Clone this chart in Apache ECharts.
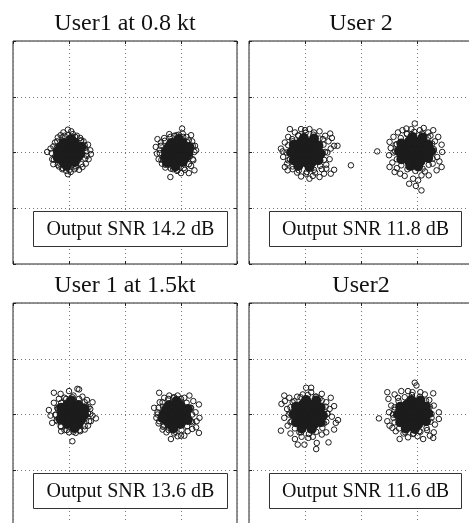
<!DOCTYPE html>
<html><head><meta charset="utf-8">
<script src="https://cdn.jsdelivr.net/npm/echarts@6/dist/echarts.min.js"></script>
<style>html,body{margin:0;padding:0;background:#fff}#c{width:469px;height:523px}</style>
</head><body><div id="c"></div>
<script>
// ---- text ----
const panelTitles = ['User1 at 0.8 kt', 'User 2', 'User 1 at 1.5kt', 'User2'];
const snrTexts = ['Output SNR 14.2 dB', 'Output SNR 11.8 dB', 'Output SNR 13.6 dB', 'Output SNR 11.6 dB'];
const axisMin = -2, axisMax = 2, axisStep = 1;

// ---- panel 1: User1 at 0.8 kt ----
const p1LeftCore = [[-1.00,0.00],[-1.10,0.00],[-0.90,0.00],[-1.20,0.02],[-0.80,-0.02],[-1.05,0.09],[-0.95,0.09],[-1.15,0.10],[-0.85,0.09],[-1.05,-0.09],[-0.95,-0.09],[-1.15,-0.09],[-0.85,-0.09],[-1.00,0.18],[-1.10,0.17],[-0.90,0.17],[-1.00,-0.18],[-1.10,-0.17],[-0.90,-0.17],[-0.78,0.10],[-1.20,-0.10],[-0.96,0.24],[-1.04,-0.24]];
const p1LeftMid = [[-0.69,0.02],[-0.72,0.13],[-0.79,0.21],[-0.89,0.28],[-1.01,0.31],[-1.12,0.27],[-1.21,0.20],[-1.28,0.11],[-1.31,-0.01],[-1.27,-0.13],[-1.20,-0.22],[-1.11,-0.28],[-0.99,-0.31],[-0.88,-0.27],[-0.78,-0.21],[-0.71,-0.11]];
const p1LeftRing = [[-1.39,0.01],[-1.33,0.07],[-1.30,-0.12],[-1.28,-0.21],[-1.25,0.18],[-1.20,0.27],[-1.15,0.31],[-1.10,0.36],[-1.02,0.41],[-0.96,0.38],[-0.93,0.33],[-0.86,0.30],[-0.80,0.26],[-0.74,0.20],[-0.66,0.14],[-0.62,0.04],[-0.61,-0.03],[-0.65,-0.12],[-0.70,-0.20],[-0.76,-0.26],[-0.82,-0.31],[-0.90,-0.30],[-0.97,-0.35],[-1.02,-0.39],[-1.05,-0.33],[-1.12,-0.30],[-1.18,-0.25],[-1.24,-0.06],[-1.22,0.08],[-0.72,0.08],[-0.68,-0.06],[-1.08,0.30],[-0.88,-0.24],[-1.16,-0.20],[-0.78,0.22]];
const p1RightCore = [[0.93,0.00],[0.83,0.00],[1.03,0.00],[0.73,0.02],[1.13,-0.01],[0.88,0.09],[0.98,0.09],[0.78,0.10],[1.08,0.09],[0.88,-0.09],[0.98,-0.09],[0.78,-0.10],[1.08,-0.09],[0.93,0.18],[0.83,0.17],[1.03,0.17],[0.93,-0.18],[0.83,-0.17],[1.03,-0.17],[0.72,-0.08],[1.15,0.10],[0.90,-0.25],[0.96,0.24],[0.75,-0.18]];
const p1RightMid = [[1.24,0.01],[1.21,0.12],[1.14,0.22],[1.04,0.28],[0.92,0.31],[0.81,0.28],[0.71,0.21],[0.64,0.12],[0.62,-0.01],[0.65,-0.13],[0.72,-0.22],[0.82,-0.29],[0.94,-0.31],[1.05,-0.28],[1.14,-0.21],[1.21,-0.12]];
const p1RightRing = [[0.58,0.24],[0.55,0.10],[0.57,-0.02],[0.60,-0.12],[0.66,-0.20],[0.72,-0.27],[0.81,-0.44],[0.86,-0.30],[0.93,-0.33],[1.00,-0.37],[1.07,-0.31],[1.14,-0.37],[1.24,-0.32],[1.18,-0.24],[1.22,-0.14],[1.27,0.04],[1.25,0.12],[1.20,0.20],[1.18,0.31],[1.10,0.28],[1.03,0.34],[1.02,0.43],[0.96,0.32],[0.88,0.30],[0.79,0.33],[0.70,0.26],[0.64,0.18],[0.62,0.05],[1.16,-0.06],[0.68,-0.12],[0.78,-0.22],[1.12,0.18]];

// ---- panel 2: User 2 ----
const p2LeftCore = [[-0.98,0.00],[-1.08,0.00],[-0.88,0.00],[-1.18,0.01],[-0.78,0.00],[-1.03,0.09],[-0.93,0.09],[-1.13,0.10],[-0.83,0.10],[-1.03,-0.09],[-0.93,-0.09],[-1.13,-0.10],[-0.83,-0.10],[-0.98,0.18],[-1.08,0.18],[-0.88,0.18],[-0.98,-0.18],[-1.08,-0.18],[-0.88,-0.18],[-1.20,0.14],[-0.76,0.12],[-1.20,-0.14],[-0.76,-0.14],[-1.02,0.26],[-0.92,-0.26],[-1.12,-0.24],[-0.84,0.25],[-0.72,-0.02],[-1.25,0.00]];
const p2LeftMid = [[-0.64,0.01],[-0.67,0.14],[-0.74,0.25],[-0.85,0.32],[-0.99,0.35],[-1.12,0.31],[-1.23,0.24],[-1.30,0.13],[-1.33,0.00],[-1.30,-0.14],[-1.22,-0.25],[-1.11,-0.32],[-0.97,-0.35],[-0.84,-0.31],[-0.73,-0.24],[-0.66,-0.13]];
const p2LeftRing = [[-1.43,0.07],[-1.39,-0.08],[-1.36,0.18],[-1.31,-0.32],[-1.32,-0.20],[-1.30,0.28],[-1.27,0.42],[-1.18,0.36],[-1.07,0.42],[-1.00,0.40],[-0.92,0.42],[-0.84,0.36],[-0.74,0.38],[-0.64,0.30],[-0.55,0.34],[-0.58,0.20],[-0.48,0.12],[-0.42,0.12],[-0.54,0.07],[-0.60,0.00],[-0.56,-0.12],[-0.62,-0.22],[-0.48,-0.31],[-0.54,-0.38],[-0.62,-0.29],[-0.66,-0.38],[-0.74,-0.44],[-0.82,-0.36],[-0.92,-0.47],[-0.98,-0.38],[-1.07,-0.43],[-1.14,-0.36],[-1.22,-0.30],[-1.27,-0.12],[-1.25,0.04],[-1.22,0.20],[-1.12,0.30],[-0.70,-0.30],[-0.68,0.24],[-0.18,-0.23],[-1.36,-0.26],[-0.86,-0.42],[-0.52,0.26],[-1.40,0.02]];
const p2RightCore = [[0.96,0.02],[0.86,0.02],[1.06,0.02],[0.76,0.03],[1.16,0.02],[0.91,0.11],[1.01,0.11],[0.81,0.12],[1.11,0.11],[0.91,-0.07],[1.01,-0.07],[0.81,-0.08],[1.11,-0.07],[0.96,0.20],[0.86,0.20],[1.06,0.20],[0.96,-0.16],[0.86,-0.16],[1.06,-0.16],[0.72,0.16],[1.20,0.14],[0.72,-0.12],[1.20,-0.10],[0.92,0.28],[1.02,-0.25],[0.88,-0.24],[1.10,0.27],[0.68,0.02],[1.25,0.02]];
const p2RightMid = [[1.30,0.03],[1.27,0.16],[1.20,0.27],[1.09,0.34],[0.95,0.37],[0.82,0.33],[0.71,0.26],[0.64,0.15],[0.61,0.02],[0.64,-0.12],[0.72,-0.23],[0.83,-0.30],[0.97,-0.33],[1.10,-0.29],[1.21,-0.22],[1.28,-0.11]];
const p2RightRing = [[0.29,0.02],[0.50,-0.05],[0.51,0.19],[0.53,0.08],[0.51,-0.26],[0.56,-0.18],[0.60,-0.35],[0.58,0.28],[0.66,0.36],[0.74,0.40],[0.81,0.43],[0.90,0.42],[0.96,0.52],[1.05,0.40],[1.12,0.44],[1.20,0.36],[1.29,0.40],[1.38,0.28],[1.32,0.20],[1.44,0.14],[1.45,0.01],[1.36,-0.08],[1.44,-0.26],[1.35,-0.32],[1.28,-0.20],[1.21,-0.41],[1.14,-0.34],[1.08,-0.41],[1.02,-0.50],[0.93,-0.47],[0.86,-0.56],[1.08,-0.68],[0.78,-0.42],[0.70,-0.38],[0.64,-0.28],[1.30,0.06],[1.24,0.30],[0.62,0.14],[0.98,-0.60],[0.58,0.00],[1.40,-0.16],[0.82,0.34]];

// ---- panel 3: User 1 at 1.5kt ----
const p3LeftCore = [[-0.93,0.00],[-1.03,0.00],[-0.83,0.00],[-1.13,0.01],[-0.73,-0.01],[-0.98,0.09],[-0.88,0.09],[-1.08,0.10],[-0.78,0.09],[-0.98,-0.09],[-0.88,-0.09],[-1.08,-0.10],[-0.78,-0.09],[-0.93,0.18],[-1.03,0.17],[-0.83,0.17],[-0.93,-0.18],[-1.03,-0.17],[-0.83,-0.17],[-1.15,-0.08],[-0.72,0.10],[-0.96,0.25],[-0.90,-0.24],[-1.14,0.12]];
const p3LeftMid = [[-0.62,0.01],[-0.65,0.13],[-0.72,0.22],[-0.82,0.28],[-0.94,0.31],[-1.05,0.28],[-1.14,0.21],[-1.21,0.12],[-1.24,-0.01],[-1.21,-0.12],[-1.14,-0.22],[-1.04,-0.28],[-0.92,-0.31],[-0.81,-0.28],[-0.72,-0.21],[-0.64,-0.12]];
const p3LeftRing = [[-1.36,0.08],[-1.33,-0.02],[-1.30,-0.15],[-1.27,0.21],[-1.27,0.39],[-1.15,0.37],[-1.08,0.30],[-1.00,0.42],[-0.92,0.34],[-0.85,0.46],[-0.82,0.45],[-0.76,0.32],[-0.68,0.26],[-0.58,0.22],[-0.62,0.10],[-0.52,-0.07],[-0.61,-0.12],[-0.66,-0.20],[-0.72,-0.27],[-0.80,-0.30],[-0.88,-0.33],[-0.94,-0.48],[-1.00,-0.32],[-1.08,-0.28],[-1.15,-0.21],[-1.22,-0.10],[-1.20,0.10],[-1.24,0.00],[-1.18,0.28],[-0.66,0.02],[-0.70,0.16],[-1.14,-0.30],[-0.58,-0.02]];
const p3RightCore = [[0.89,0.00],[0.79,0.00],[0.99,0.00],[0.69,0.01],[1.09,-0.01],[0.84,0.09],[0.94,0.09],[0.74,0.10],[1.04,0.09],[0.84,-0.09],[0.94,-0.09],[0.74,-0.10],[1.04,-0.09],[0.89,0.18],[0.79,0.17],[0.99,0.17],[0.89,-0.18],[0.79,-0.17],[0.99,-0.17],[1.12,0.10],[1.12,-0.10],[0.92,0.24],[0.86,-0.25],[0.67,-0.06]];
const p3RightMid = [[1.20,0.00],[1.17,0.12],[1.10,0.21],[1.00,0.28],[0.88,0.31],[0.77,0.28],[0.67,0.22],[0.60,0.12],[0.58,0.00],[0.61,-0.12],[0.68,-0.22],[0.78,-0.28],[0.90,-0.31],[1.01,-0.28],[1.11,-0.21],[1.18,-0.12]];
const p3RightRing = [[0.52,0.12],[0.56,-0.06],[0.58,0.04],[0.60,-0.16],[0.67,-0.27],[0.74,-0.32],[0.82,-0.44],[0.88,-0.34],[0.94,-0.39],[1.00,-0.38],[1.06,-0.38],[1.12,-0.30],[1.20,-0.26],[1.27,-0.23],[1.32,-0.33],[1.33,-0.06],[1.26,0.04],[1.28,-0.12],[1.32,0.18],[1.22,0.24],[1.15,0.34],[1.06,0.30],[0.94,0.34],[0.86,0.30],[0.79,0.34],[0.70,0.30],[0.61,0.39],[0.62,0.22],[0.68,0.14],[0.64,-0.08],[1.18,0.12],[1.20,-0.14],[0.70,-0.20]];

// ---- panel 4: User2 ----
const p4LeftCore = [[-0.94,0.00],[-1.04,0.00],[-0.84,0.00],[-1.14,0.01],[-0.74,0.00],[-0.99,0.09],[-0.89,0.09],[-1.09,0.10],[-0.79,0.10],[-0.99,-0.09],[-0.89,-0.09],[-1.09,-0.10],[-0.79,-0.10],[-0.94,0.18],[-1.04,0.18],[-0.84,0.18],[-0.94,-0.18],[-1.04,-0.18],[-0.84,-0.18],[-1.16,0.14],[-0.72,0.12],[-1.16,-0.14],[-0.72,-0.14],[-0.98,0.26],[-0.88,-0.26],[-1.06,-0.25],[-0.80,0.25],[-0.68,-0.02],[-1.20,0.00]];
const p4LeftMid = [[-0.60,0.01],[-0.63,0.14],[-0.70,0.25],[-0.81,0.32],[-0.95,0.35],[-1.08,0.31],[-1.19,0.24],[-1.26,0.13],[-1.29,0.00],[-1.26,-0.14],[-1.18,-0.25],[-1.07,-0.32],[-0.93,-0.35],[-0.80,-0.31],[-0.69,-0.24],[-0.62,-0.13]];
const p4LeftRing = [[-1.42,0.19],[-1.37,-0.06],[-1.43,-0.29],[-1.31,-0.20],[-1.37,0.34],[-1.28,0.30],[-1.32,0.10],[-1.26,-0.34],[-1.18,-0.44],[-1.13,-0.54],[-1.01,-0.54],[-1.06,-0.40],[-0.94,-0.42],[-0.86,-0.40],[-0.79,-0.51],[-0.80,-0.62],[-0.70,-0.36],[-0.58,-0.50],[-0.62,-0.32],[-0.48,-0.27],[-0.45,-0.15],[-0.41,-0.10],[-0.52,-0.04],[-0.48,0.15],[-0.56,0.10],[-0.54,0.30],[-0.62,0.22],[-0.70,0.37],[-0.80,0.32],[-0.89,0.40],[-0.89,0.48],[-0.98,0.48],[-1.04,0.36],[-1.14,0.32],[-1.22,0.22],[-1.26,0.02],[-1.24,-0.12],[-0.66,-0.16],[-0.60,0.02],[-1.10,-0.32],[-0.74,0.28],[-1.36,0.24]];
const p4RightCore = [[0.92,0.00],[0.82,0.00],[1.02,0.00],[0.72,0.01],[1.12,0.00],[0.87,0.09],[0.97,0.09],[0.77,0.10],[1.07,0.10],[0.87,-0.09],[0.97,-0.09],[0.77,-0.10],[1.07,-0.10],[0.92,0.18],[0.82,0.18],[1.02,0.18],[0.92,-0.18],[0.82,-0.18],[1.02,-0.18],[0.70,0.14],[1.16,0.14],[0.70,-0.14],[1.16,-0.12],[0.90,0.26],[0.96,-0.26],[0.80,-0.25],[1.06,0.25],[0.66,0.00],[1.20,0.02]];
const p4RightMid = [[1.26,0.01],[1.23,0.14],[1.16,0.25],[1.05,0.32],[0.91,0.35],[0.78,0.31],[0.67,0.24],[0.60,0.13],[0.57,0.00],[0.60,-0.14],[0.68,-0.25],[0.79,-0.32],[0.93,-0.35],[1.06,-0.31],[1.17,-0.24],[1.24,-0.13]];
const p4RightRing = [[0.32,-0.07],[0.47,-0.12],[0.51,-0.20],[0.50,0.04],[0.49,0.28],[0.47,0.40],[0.54,0.16],[0.60,0.36],[0.72,0.42],[0.84,0.42],[0.96,0.57],[0.99,0.52],[1.06,0.40],[1.14,0.36],[1.29,0.38],[1.22,0.26],[1.30,0.16],[1.39,0.04],[1.39,-0.08],[1.32,-0.18],[1.30,-0.32],[1.29,-0.42],[1.23,-0.38],[1.18,-0.28],[1.11,-0.44],[1.01,-0.39],[0.94,-0.34],[0.84,-0.41],[0.76,-0.34],[0.69,-0.44],[0.62,-0.30],[0.56,-0.24],[0.58,-0.06],[0.92,0.40],[1.26,-0.06],[0.66,0.30],[1.04,-0.30],[0.60,0.08]];

const coreSets = [p1LeftCore.concat(p1RightCore), p2LeftCore.concat(p2RightCore), p3LeftCore.concat(p3RightCore), p4LeftCore.concat(p4RightCore)];
const ringSets = [
  p1LeftMid.concat(p1RightMid, p1LeftRing, p1RightRing),
  p2LeftMid.concat(p2RightMid, p2LeftRing, p2RightRing),
  p3LeftMid.concat(p3RightMid, p3LeftRing, p3RightRing),
  p4LeftMid.concat(p4RightMid, p4LeftRing, p4RightRing)
];

// ---- layout (pixels) ----
const panelPos = [{l:13,t:41},{l:249,t:41},{l:13,t:303},{l:249,t:303}];
const PW = 224, PH = 223;

const chart = echarts.init(document.getElementById('c'), null, {renderer:'canvas'});
const grid = [], xAxis = [], yAxis = [], series = [], graphic = [];
const tick = {show:true, inside:true, length:3, lineStyle:{color:'#222', width:1}};
const split = {show:true, lineStyle:{color:'#777', width:1, type:[1,3]}};
panelPos.forEach((p, i) => {
  grid.push({left:p.l, top:p.t, width:PW, height:PH, show:true, borderColor:'#222', borderWidth:1,
    backgroundColor:'transparent', containLabel:false, outerBoundsMode:'none'});
  const base = {gridIndex:i, type:'value', min:axisMin, max:axisMax, interval:axisStep, axisLabel:{show:false}, axisLine:{show:false, onZero:false}, axisTick:tick};
  xAxis.push(Object.assign({}, base, {position:'bottom', splitLine:split}));
  xAxis.push(Object.assign({}, base, {position:'top', splitLine:{show:false}}));
  yAxis.push(Object.assign({}, base, {position:'left', splitLine:split}));
  yAxis.push(Object.assign({}, base, {position:'right', splitLine:{show:false}}));
  series.push({type:'scatter', xAxisIndex:2*i, yAxisIndex:2*i, data:coreSets[i], symbol:'circle', symbolSize:10,
    itemStyle:{color:'#1c1c1c', opacity:1}, silent:true, z:3});
  series.push({type:'scatter', xAxisIndex:2*i, yAxisIndex:2*i, data:ringSets[i], symbol:'circle', symbolSize:5.5,
    itemStyle:{color:'rgba(0,0,0,0)', borderColor:'#1c1c1c', borderWidth:1, opacity:1}, silent:true, z:4});
  // title
  graphic.push({type:'text', x:p.l + PW/2, y:p.t - 17.5, z:100,
    style:{text:panelTitles[i], font:'24px "Liberation Serif", serif', fill:'#111', textAlign:'center', textVerticalAlign:'middle'}});
  // SNR box
  const bx = p.l + 20.5, by = p.t + 170.5, bw = i % 2 === 0 ? 194 : 192, bh = 35;
  graphic.push({type:'rect', z:100, shape:{x:bx, y:by, width:bw, height:bh}, style:{fill:'#fff', stroke:'#333', lineWidth:1}});
  graphic.push({type:'text', z:101, x:bx + bw/2, y:by + bh/2 + 0.5,
    style:{text:snrTexts[i], font:'20px "Liberation Serif", serif', fill:'#111', textAlign:'center', textVerticalAlign:'middle'}});
});

chart.setOption({animation:false, backgroundColor:'#fff', grid, xAxis, yAxis, series, graphic});
</script>
</body></html>
